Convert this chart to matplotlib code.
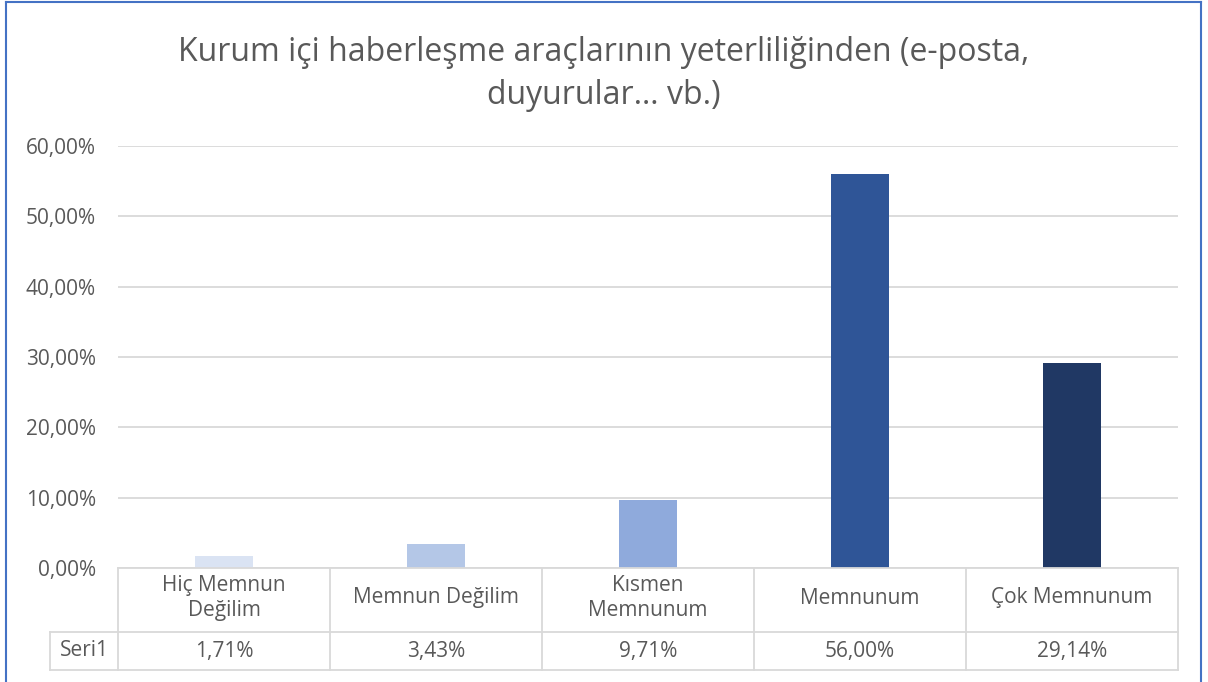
import matplotlib
matplotlib.use("Agg")
import matplotlib.pyplot as plt
from matplotlib.lines import Line2D

plt.rcParams['font.family'] = ['Open Sans', 'DejaVu Sans']

title = "Kurum içi haberleşme araçlarının yeterliliğinden (e-posta,\nduyurular… vb.)"
categories = ["Hiç Memnun\nDeğilim", "Memnun Değilim", "Kısmen\nMemnunum", "Memnunum", "Çok Memnunum"]
values = [1.71, 3.43, 9.71, 56.00, 29.14]
series_name = "Seri1"
yticks = [0, 10, 20, 30, 40, 50, 60]
colors = ["#DAE3F3", "#B4C7E7", "#8FAADC", "#2F5597", "#203864"]

W, H = 1208, 682
fig = plt.figure(figsize=(W / 100, H / 100), dpi=100)
TXT = "#595959"
GRID = "#D9D9D9"
FS = 15

def fx(px):
    return px / W

def fy(py):
    return 1 - py / H

# plot area
x0, x1 = 118, 1178
ytop, ybot = 146, 568
ax = fig.add_axes([fx(x0), fy(ybot), fx(x1) - fx(x0), fy(ytop) - fy(ybot)])
n = len(values)
xs = list(range(n))
ax.bar(xs, values, width=0.275, color=colors, zorder=3)
ax.set_xlim(-0.5, n - 0.5)
ax.set_ylim(0, 60)
ax.set_yticks(yticks)
ax.set_yticklabels([f"{v:.2f}%".replace(".", ",") for v in yticks], color=TXT, fontsize=FS)
ax.tick_params(axis='y', length=0, pad=16)
ax.set_xticks([])
ax.grid(axis='y', color=GRID, linewidth=1.3, zorder=0)
for s in ax.spines.values():
    s.set_visible(False)

# data table
tleft, ttop, tmid, tbot = 50, 568, 632, 670
colw = (x1 - x0) / n
tax = fig.add_axes([fx(tleft), fy(tbot), fx(x1) - fx(tleft), fy(ttop) - fy(tbot)])
left_data = -0.5 - (x0 - tleft) / colw
tax.set_xlim(left_data, n - 0.5)
tax.set_ylim(0, tbot - ttop)
tax.invert_yaxis()
tax.axis('off')
lw = 1.3
hrow = tmid - ttop
hb = tbot - ttop
tax.plot([-0.5, n - 0.5], [0, 0], color=GRID, lw=lw, clip_on=False)
tax.plot([left_data, n - 0.5], [hrow, hrow], color=GRID, lw=lw, clip_on=False)
tax.plot([left_data, n - 0.5], [hb, hb], color=GRID, lw=lw, clip_on=False)
tax.plot([left_data, left_data], [hrow, hb], color=GRID, lw=lw, clip_on=False)
for i in range(n + 1):
    tax.plot([i - 0.5, i - 0.5], [0, hb], color=GRID, lw=lw, clip_on=False)
for i, (c, v) in enumerate(zip(categories, values)):
    tax.text(i, hrow / 2 - 2, c, ha='center', va='center', color=TXT, fontsize=FS, linespacing=1.2)
    tax.text(i, (hrow + hb) / 2, f"{v:.2f}%".replace(".", ","), ha='center', va='center',
             color=TXT, fontsize=FS)
tax.text((left_data - 0.5) / 2, (hrow + hb) / 2, series_name, ha='center', va='center',
         color=TXT, fontsize=FS)

# title
fig.text(0.5, fy(74), title, ha='center', va='center', color=TXT, fontsize=23, linespacing=1.4)

# blue border
bc = "#4472C4"
fig.add_artist(Line2D([fx(6), fx(6)], [0, fy(2)], color=bc, lw=1.5))
fig.add_artist(Line2D([fx(6), fx(1201)], [fy(2), fy(2)], color=bc, lw=1.5))
fig.add_artist(Line2D([fx(1201), fx(1201)], [0, fy(2)], color=bc, lw=1.5))

fig.savefig("out.png", dpi=100, facecolor="white")
